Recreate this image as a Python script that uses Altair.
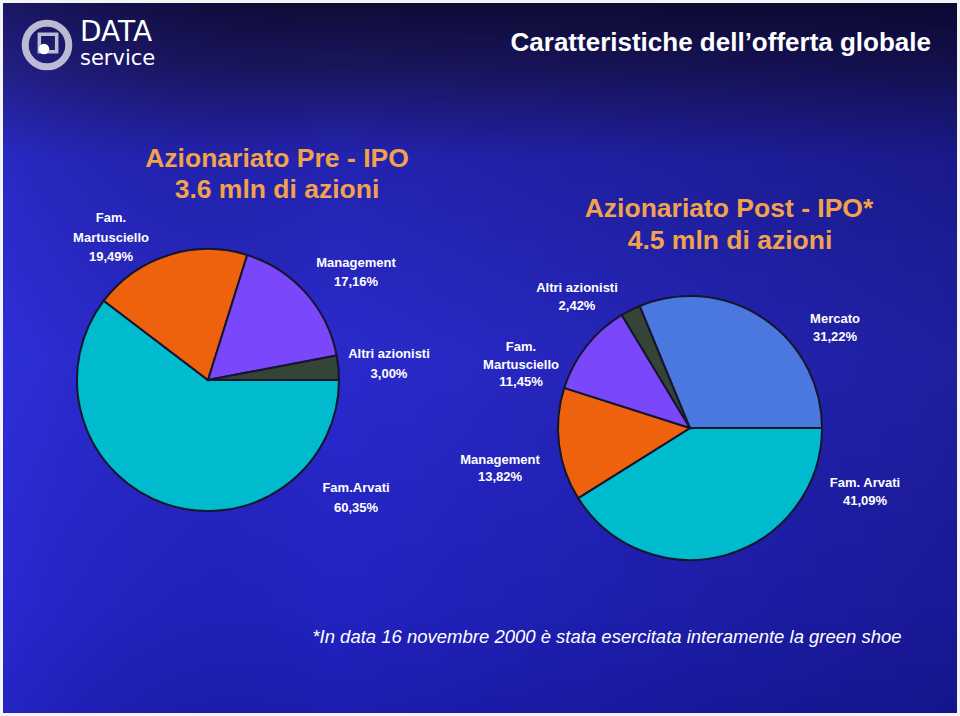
import math
import altair as alt
import pandas as pd

# ---- data ----
pre_labels = ["Fam.Arvati", "Fam. Martusciello", "Management", "Altri azionisti"]
pre_values = [60.35, 19.49, 17.16, 3.00]
post_labels = ["Fam. Arvati", "Management", "Fam. Martusciello", "Altri azionisti", "Mercato"]
post_values = [41.09, 13.82, 11.45, 2.42, 31.22]

# ---- styles ----
CYAN, ORANGE, PURPLE, DARK, BLUE = "#00BACD", "#EE620E", "#7A48FA", "#344538", "#4A78DE"
pre_colors = [CYAN, ORANGE, PURPLE, DARK]
post_colors = [CYAN, ORANGE, PURPLE, DARK, BLUE]
SANS = "Liberation Sans"

W, H = 960, 716
start = math.pi / 2

pre_df = pd.DataFrame({"label": pre_labels, "value": pre_values,
                       "color": pre_colors, "idx": range(len(pre_labels))})
post_df = pd.DataFrame({"label": post_labels, "value": post_values,
                        "color": post_colors, "idx": range(len(post_labels))})

def fmt(v):
    return f"{v:.2f}".replace(".", ",") + "%"

# label lines (text) and their placement
pre_lab_lines = [
    ["Fam.Arvati", fmt(pre_values[0])],
    ["Fam.", "Martusciello", fmt(pre_values[1])],
    ["Management", fmt(pre_values[2])],
    ["Altri azionisti", fmt(pre_values[3])],
]
pre_lab_pos = [(356, 488, 20), (111, 218, 19.5), (356, 263, 19), (389, 354, 20)]
post_lab_lines = [
    ["Fam. Arvati", fmt(post_values[0])],
    ["Management", fmt(post_values[1])],
    ["Fam.", "Martusciello", fmt(post_values[2])],
    ["Altri azionisti", fmt(post_values[3])],
    ["Mercato", fmt(post_values[4])],
]
post_lab_pos = [(865, 483, 17.5), (500, 460, 17), (521, 347, 17.5), (577, 288, 18), (835, 319, 18)]

rows = []
for lines, (x, y, dy) in list(zip(pre_lab_lines, pre_lab_pos)) + list(zip(post_lab_lines, post_lab_pos)):
    for i, t in enumerate(lines):
        rows.append({"t": t, "px": x, "py": y + i * dy})
lab_df = pd.DataFrame(rows)

base = alt.Chart(pd.DataFrame({"a": [0]}))

bg = base.mark_rect(color=alt.Gradient(
    gradient="linear", x1=0, x2=0, y1=0, y2=1,
    stops=[alt.GradientStop(color="#0f0b33", offset=0.0),
           alt.GradientStop(color="#1a1660", offset=0.1),
           alt.GradientStop(color="#2323b0", offset=0.22),
           alt.GradientStop(color="#2a2acc", offset=0.5),
           alt.GradientStop(color="#2222c0", offset=0.85),
           alt.GradientStop(color="#1c1cb0", offset=1.0)])).encode(
    x=alt.value(0), x2=alt.value(W), y=alt.value(0), y2=alt.value(H))

shade = base.mark_rect(color=alt.Gradient(
    gradient="linear", x1=0, x2=1, y1=0, y2=0,
    stops=[alt.GradientStop(color="rgba(60,60,255,0.25)", offset=0.0),
           alt.GradientStop(color="rgba(0,0,40,0.0)", offset=0.35),
           alt.GradientStop(color="rgba(0,0,40,0.28)", offset=1.0)])).encode(
    x=alt.value(0), x2=alt.value(W), y=alt.value(0), y2=alt.value(H))

frame = base.mark_rect(fill="transparent", stroke="#f4f4f4", strokeWidth=6).encode(
    x=alt.value(0), x2=alt.value(W), y=alt.value(0), y2=alt.value(H))

theta_scale = alt.Scale(range=[start, start + 2 * math.pi])

pre_pie = alt.Chart(pre_df).mark_arc(radius=131, stroke="#15152e", strokeWidth=2).encode(
    theta=alt.Theta("value:Q", stack=True, scale=theta_scale),
    color=alt.Color("color:N", scale=None),
    order=alt.Order("idx:Q"),
    x=alt.value(208), y=alt.value(380))

post_pie = alt.Chart(post_df).mark_arc(radius=132, stroke="#15152e", strokeWidth=2).encode(
    theta=alt.Theta("value:Q", stack=True, scale=theta_scale),
    color=alt.Color("color:N", scale=None),
    order=alt.Order("idx:Q"),
    x=alt.value(690), y=alt.value(428))

labels = alt.Chart(lab_df).mark_text(font=SANS, fontWeight="bold", fontSize=13,
                                     color="white", baseline="middle").encode(
    x=alt.X("px:Q", scale=None), y=alt.Y("py:Q", scale=None), text="t:N")

title_df = pd.DataFrame({
    "t": ["Azionariato Pre - IPO", "3.6 mln di azioni",
          "Azionariato Post - IPO*", "4.5 mln di azioni"],
    "px": [277, 277, 729, 730],
    "py": [159, 190, 209, 241]})
titles = alt.Chart(title_df).mark_text(font=SANS, fontWeight="bold", fontSize=26.5,
                                       color="#F2A24A", baseline="middle").encode(
    x=alt.X("px:Q", scale=None), y=alt.Y("py:Q", scale=None), text="t:N")

head = base.mark_text(text="Caratteristiche dell\u2019offerta globale", font=SANS,
                      fontWeight="bold", fontSize=26, color="white", align="right",
                      baseline="middle").encode(x=alt.value(931), y=alt.value(43))

logo_ring = base.mark_point(shape="circle", size=1900, filled=False, stroke="white",
                            strokeWidth=7).encode(x=alt.value(47), y=alt.value(45))
logo_inner = base.mark_point(shape="square", size=300, filled=False, stroke="white",
                             strokeWidth=3.5).encode(x=alt.value(48), y=alt.value(43))
logo_dot = base.mark_point(shape="circle", size=110, filled=True, color="white",
                           opacity=1).encode(x=alt.value(44), y=alt.value(49))
logo_t1 = base.mark_text(text="DATA", font="DejaVu Sans", fontWeight="normal", fontSize=28,
                         color="white", align="left", baseline="middle").encode(
    x=alt.value(80), y=alt.value(33))
logo_t2 = base.mark_text(text="service", font="DejaVu Sans", fontWeight="normal", fontSize=21,
                         color="white", align="left", baseline="middle").encode(
    x=alt.value(80), y=alt.value(59))

foot = base.mark_text(text="*In data 16 novembre 2000 \u00e8 stata esercitata interamente la green shoe",
                      font=SANS, fontStyle="italic", fontSize=18.5, color="white",
                      align="center", baseline="middle").encode(x=alt.value(607), y=alt.value(637))

chart = alt.layer(bg, shade, pre_pie, post_pie, labels, titles, head,
                  logo_ring, logo_inner, logo_dot, logo_t1, logo_t2, foot, frame).resolve_scale(
    theta="independent").properties(
    width=W, height=H, padding=0, autosize="none", background="#1a1a80").configure_view(strokeWidth=0)

chart.save("out.html", embed_options={"renderer": "svg", "actions": False})
